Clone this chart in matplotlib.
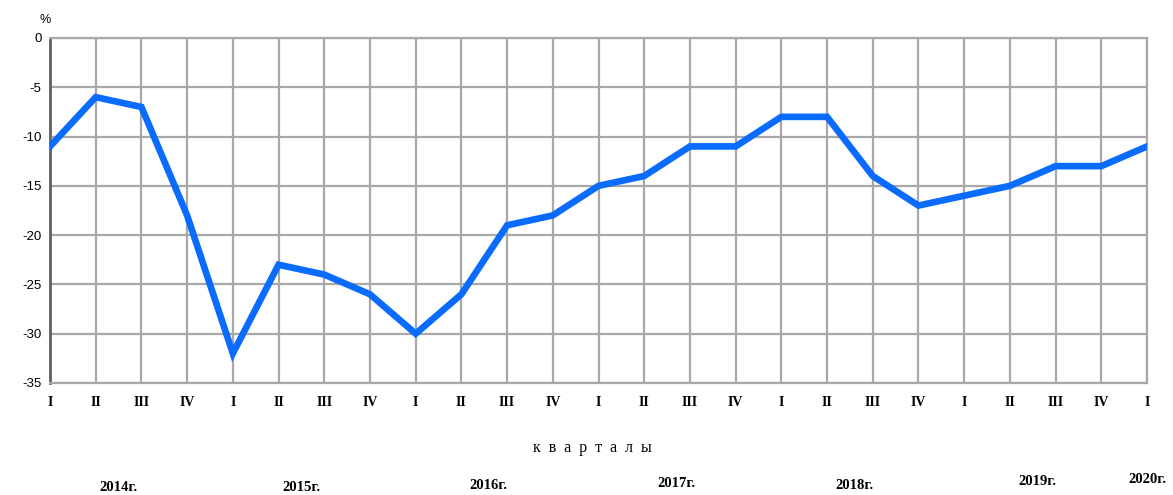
import numpy as np
import matplotlib.pyplot as plt

# quarterly values, I-2014 .. I-2020
quarters = ['I', 'II', 'III', 'IV'] * 6 + ['I']
values = [-11, -6, -7, -18,
          -32, -23, -24, -26,
          -30, -26, -19, -18,
          -15, -14, -11, -11,
          -8, -8, -14, -17,
          -16, -15, -13, -13,
          -11]
years = ['2014г.', '2015г.', '2016г.', '2017г.', '2018г.', '2019г.', '2020г.']
year_x = [1.5, 5.5, 9.6, 13.7, 17.6, 21.6, 24.0]
year_y = [-45.6, -45.6, -45.4, -45.2, -45.4, -45.0, -44.8]

W, H = 1173, 495
fig = plt.figure(figsize=(W / 100, H / 100), dpi=100)
ax = fig.add_axes([50 / W, 1 - 383 / H, (1147 - 50) / W, (383 - 38) / H])

x = np.arange(len(values))
ax.plot(x, values, color='#0a6cff', lw=4.8, solid_joinstyle='miter', zorder=3)

ax.set_xlim(0, len(values) - 1)
ax.set_ylim(-35, 0)
yt = np.arange(-35, 1, 5)
ax.set_yticks(yt)
ax.set_yticklabels([str(v) for v in yt], family='Liberation Sans', fontsize=9.5)
ax.set_xticks(x)
ax.set_xticklabels(quarters, family='Liberation Serif', fontsize=10, fontweight='bold')
ax.tick_params(axis='x', length=0, pad=9)
ax.tick_params(axis='y', length=0, pad=6)

ax.grid(True, color='#a8a8a8', lw=1.6)
for s in ['top', 'right', 'bottom']:
    ax.spines[s].set_color('#a8a8a8')
    ax.spines[s].set_linewidth(1.6)
ax.spines['left'].set_color('#606060')
ax.spines['left'].set_linewidth(2)

fig.text(45 / W, 1 - 20 / H, '%', fontsize=9, ha='center', va='center', family='Liberation Sans')

fig.text(592 / W, 1 - 448 / H, '  '.join('кварталы'), fontsize=11.5, ha='center', va='center',
         family='Liberation Serif')

for yr, xp, yp in zip(years, year_x, year_y):
    ax.text(xp, yp, yr, fontsize=10.5, ha='center', va='center', family='Liberation Serif',
            fontweight='bold', clip_on=False)

fig.savefig('out.png', dpi=100)
